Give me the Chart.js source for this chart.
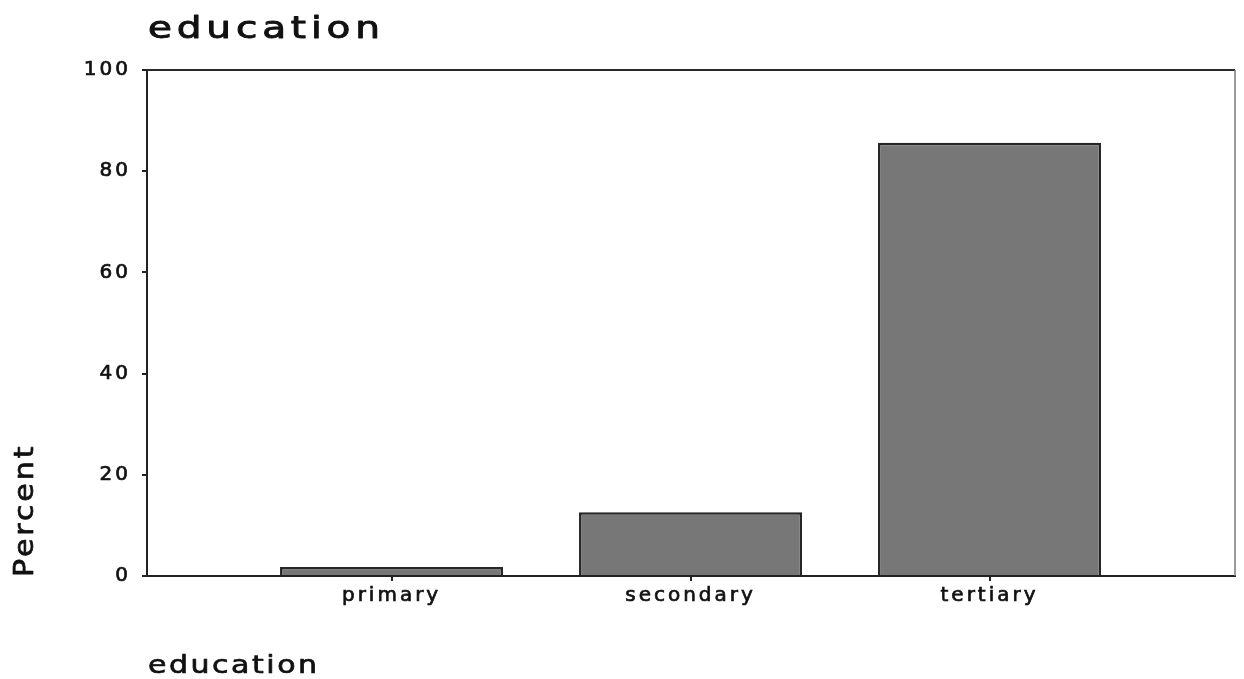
<!DOCTYPE html>
<html>
<head>
<meta charset="utf-8">
<script src="https://cdn.jsdelivr.net/npm/chart.js@4/dist/chart.umd.min.js"></script>
<style>
  html, body { margin: 0; padding: 0; background: #fff; }
  #wrap { width: 1244px; height: 679px; position: relative; }
</style>
</head>
<body>
<div id="wrap"><canvas id="c"></canvas></div>
<script>
// ---- data ----
const categories = ['primary', 'secondary', 'tertiary'];
const percentValues = [1.8, 12.6, 85.6];
const yTicks = [0, 20, 40, 60, 80, 100];
const chartTitle = 'education';
const xAxisTitle = 'education';
const yAxisTitle = 'Percent';

const FONT = '"DejaVu Sans", Arial, sans-serif';

function wideText(ctx, text, x, y, size, sx, ls, rot, sw) {
  ctx.save();
  ctx.translate(x, y);
  if (rot) ctx.rotate(rot);
  ctx.scale(sx, 1);
  ctx.font = size + 'px ' + FONT;
  if ('letterSpacing' in ctx) ctx.letterSpacing = ls + 'px';
  ctx.fillStyle = '#111';
  ctx.strokeStyle = '#111';
  ctx.lineWidth = sw;
  ctx.lineJoin = 'round';
  ctx.textAlign = 'left';
  ctx.textBaseline = 'alphabetic';
  ctx.fillText(text, 0, 0);
  if (sw > 0) ctx.strokeText(text, 0, 0);
  ctx.restore();
}

const spacingPlugin = {
  id: 'spacing',
  beforeLayout(chart) { if ('letterSpacing' in chart.ctx) chart.ctx.letterSpacing = '3px'; },
  beforeDraw(chart) { if ('letterSpacing' in chart.ctx) chart.ctx.letterSpacing = '3px'; }
};

const framePlugin = {
  id: 'frame',
  afterDraw(chart) {
    const { ctx, chartArea: a } = chart;
    ctx.save();
    if ('letterSpacing' in ctx) ctx.letterSpacing = '0px';
    ctx.strokeStyle = '#2a2a2a';
    ctx.lineWidth = 2;
    ctx.beginPath();
    ctx.moveTo(a.left, a.top);
    ctx.lineTo(a.right, a.top);
    ctx.stroke();
    ctx.strokeStyle = '#7a7a7a';
    ctx.lineWidth = 1.5;
    ctx.beginPath();
    ctx.moveTo(a.right, a.top);
    ctx.lineTo(a.right, a.bottom);
    ctx.stroke();
    // titles
    wideText(ctx, chartTitle, a.left + 1, 38, 30, 1.3, 3.7, 0, 0.9);
    wideText(ctx, xAxisTitle, a.left + 1, 673, 25, 1.2, 2.1, 0, 0.7);
    wideText(ctx, yAxisTitle, 33, a.bottom + 1, 27.4, 1.1, 2.6, -Math.PI / 2, 0.7);
    ctx.restore();
  }
};

new Chart(document.getElementById('c'), {
  type: 'bar',
  data: {
    datasets: [{
      data: percentValues.map((v, i) => ({ x: i, y: v })),
      backgroundColor: '#777777',
      borderColor: '#262626',
      borderWidth: 2.5,
      barPercentage: 0.746,
      categoryPercentage: 1.0
    }]
  },
  options: {
    responsive: true,
    maintainAspectRatio: false,
    animation: false,
    layout: { padding: { top: 70, right: 9, left: 0, bottom: 0 } },
    plugins: { legend: { display: false }, tooltip: { enabled: false }, title: { display: false } },
    scales: {
      x: {
        type: 'linear',
        min: -0.818,
        max: 2.821,
        offset: false,
        afterBuildTicks: (axis) => { axis.ticks = categories.map((c, i) => ({ value: i })); },
        afterFit: (s) => { s.height = 103; },
        ticks: {
          callback: (v) => categories[v] !== undefined ? categories[v] : '',
          autoSkip: false,
          maxRotation: 0,
          padding: 3,
          color: '#111',
          textStrokeColor: '#111',
          textStrokeWidth: 0.7,
          font: { family: FONT, size: 20 }
        },
        grid: { offset: false, drawOnChartArea: false, drawTicks: true, tickLength: 5, color: '#222', lineWidth: 2 },
        border: { display: true, color: '#222', width: 2 }
      },
      y: {
        min: 0,
        max: 100,
        afterBuildTicks: (axis) => { axis.ticks = yTicks.map(v => ({ value: v })); },
        afterFit: (s) => { s.width = 147; },
        ticks: {
          stepSize: 20,
          padding: 11,
          color: '#111',
          textStrokeColor: '#111',
          textStrokeWidth: 0.7,
          font: { family: FONT, size: 20 }
        },
        grid: { drawOnChartArea: false, drawTicks: true, tickLength: 5, color: '#222', lineWidth: 2 },
        border: { display: true, color: '#222', width: 2 }
      }
    }
  },
  plugins: [spacingPlugin, framePlugin]
});
</script>
</body>
</html>
